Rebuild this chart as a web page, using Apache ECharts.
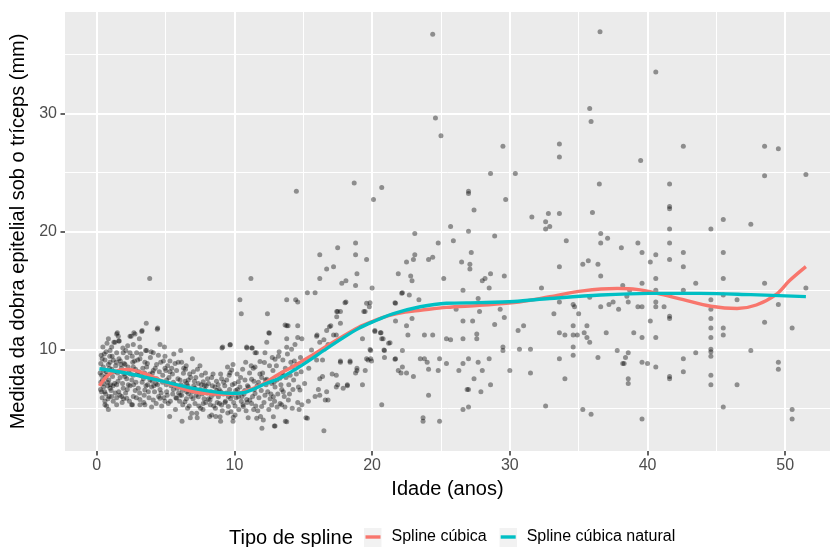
<!DOCTYPE html>
<html>
<head>
<meta charset="utf-8">
<script src="https://cdn.jsdelivr.net/npm/echarts@6/dist/echarts.min.js"></script>
<style>html,body{margin:0;padding:0;background:#fff}#chart{width:830px;height:547px}</style>
</head>
<body>
<div id="chart"></div>
<script>
// ---- DATA ----
const observations = [
[0.25,8.0],[0.3,7.2],[0.3,8.8],[0.35,6.4],[0.36,7.8],[0.4,9.2],[0.4,5.9],[0.45,10.2],[0.48,7.1],[0.48,8.5],[0.5,6.8],[0.55,9.6],[0.6,5.6],[0.6,9.1],[0.6,5.3],[0.62,7.6],[0.65,6.2],[0.7,8.1],[0.72,5.2],[0.72,7.8],[0.75,10.5],[0.8,6.9],[0.85,8.7],[0.85,4.9],[0.85,10.9],[0.88,7.4],[0.9,6.0],[0.95,9.4],[0.97,8.9],[0.97,9.9],[1.0,7.0],
[1.05,6.5],[1.09,6.0],[1.09,10.2],[1.1,8.3],[1.15,7.7],[1.2,5.6],[1.21,9.1],[1.25,10.6],[1.3,7.1],[1.33,10.6],[1.38,8.6],[1.45,11.3],[1.45,9.7],[1.45,7.0],[1.45,5.9],[1.45,5.3],[1.5,11.4],[1.52,8.0],[1.57,11.1],[1.6,6.4],[1.6,10.7],[1.64,10.7],[1.7,7.6],[1.72,9.0],[1.8,8.4],[1.82,6.0],[1.85,5.5],[1.9,10.1],[1.93,9.7],[1.93,6.7],[1.98,7.9],
[2.0,8.8],[2.06,8.7],[2.1,6.3],[2.18,7.5],[2.18,5.85],[2.2,9.3],[2.25,10.3],[2.3,7.0],[2.35,8.2],[2.42,9.7],[2.42,11.1],[2.42,6.9],[2.5,11.1],[2.54,5.3],[2.55,7.4],[2.6,5.3],[2.62,8.9],[2.66,10.4],[2.66,8.5],[2.66,7.8],[2.66,6.0],[2.7,11.4],[2.75,9.0],[2.78,11.3],[2.8,6.5],[2.85,7.2],[2.9,9.7],[2.95,8.0],
[3.02,6.7],[3.1,10.9],[3.14,10.2],[3.14,9.2],[3.14,5.75],[3.14,5.3],[3.2,7.8],[3.27,11.5],[3.3,11.6],[3.35,8.4],[3.39,7.5],[3.45,6.1],[3.5,8.9],[3.5,6.55],[3.5,5.3],[3.55,9.9],[3.6,12.2],[3.63,8.5],[3.63,9.9],[3.7,7.0],[3.8,5.9],[3.85,16.0],[3.87,7.4],[3.9,9.3],[3.99,6.8],[3.99,5.1],
[4.05,8.0],[4.11,9.7],[4.11,8.2],[4.11,5.7],[4.2,6.4],[4.3,7.1],[4.35,8.7],[4.35,7.5],[4.4,11.7],[4.43,11.8],[4.48,9.5],[4.5,6.0],[4.6,10.4],[4.6,6.6],[4.6,5.85],[4.65,8.9],[4.72,5.2],[4.8,7.8],[4.85,9.0],[4.96,9.4],[4.96,8.4],[4.96,5.6],
[5.05,7.0],[5.08,7.4],[5.08,6.4],[5.15,8.6],[5.2,5.4],[5.3,4.3],[5.32,9.0],[5.32,8.1],[5.4,6.9],[5.5,7.9],[5.57,7.2],[5.57,6.6],[5.6,9.6],[5.69,8.8],[5.75,5.9],[5.8,8.2],[5.8,5.85],[5.9,7.5],[5.95,6.3],
[6.05,7.4],[6.05,6.1],[6.1,9.9],[6.17,8.9],[6.17,6.1],[6.2,3.9],[6.25,5.3],[6.3,7.96],[6.35,6.8],[6.41,5.55],[6.45,8.3],[6.5,8.6],[6.54,7.1],[6.54,6.4],[6.6,5.0],[6.65,7.4],[6.65,6.25],[6.75,7.9],[6.8,4.2],[6.85,6.0],[6.9,4.57],[6.95,9.2],
[7.02,8.1],[7.05,6.9],[7.14,6.7],[7.14,5.4],[7.2,7.6],[7.26,4.57],[7.3,4.2],[7.38,7.1],[7.38,5.98],[7.45,6.4],[7.5,8.6],[7.55,5.0],[7.6,7.0],[7.65,6.2],[7.74,7.25],[7.74,5.4],[7.8,5.8],[7.87,6.55],[7.9,8.0],[7.95,6.9],
[8.05,7.5],[8.11,5.78],[8.2,4.3],[8.23,5.7],[8.3,6.4],[8.35,7.6],[8.35,4.43],[8.4,6.9],[8.5,5.2],[8.59,6.8],[8.65,4.3],[8.7,7.3],[8.75,5.5],[8.84,5.98],[8.9,6.6],[8.96,4.29],[9.0,3.9],[9.0,7.9],
[9.07,7.5],[9.07,5.28],[9.1,10.1],[9.15,10.2],[9.2,6.2],[9.3,6.9],[9.35,5.6],[9.44,7.4],[9.5,8.5],[9.56,5.98],[9.56,5.15],[9.65,6.6],[9.68,10.37],[9.68,8.02],[9.7,10.4],[9.75,4.7],[9.8,8.24],[9.85,7.0],[9.9,8.7],[9.92,4.24],[9.9,3.9],
[10.05,5.2],[10.05,4.43],[10.1,6.5],[10.2,7.9],[10.29,7.25],[10.29,5.98],[10.4,14.2],[10.4,6.8],[10.5,13.0],[10.5,5.6],[10.6,8.3],[10.65,5.15],[10.7,6.2],[10.77,7.4],[10.85,4.8],[10.89,10.2],[10.89,5.75],[10.9,10.1],[10.95,6.9],
[11.0,4.2],[11.1,8.0],[11.2,16.0],[11.25,10.1],[11.25,7.45],[11.25,5.4],[11.3,10.1],[11.37,8.4],[11.4,4.9],[11.45,6.6],[11.5,9.7],[11.5,8.5],[11.5,6.25],[11.6,9.7],[11.62,4.15],[11.7,4.8],[11.75,7.2],[11.86,8.96],[11.9,4.3],[11.98,7.6],[11.98,5.15],[12.0,3.3],
[12.1,4.0],[12.18,8.87],[12.22,9.7],[12.22,6.1],[12.3,7.0],[12.35,10.6],[12.35,7.45],[12.4,13.0],[12.5,11.4],[12.5,4.9],[12.54,11.35],[12.6,5.8],[12.71,7.1],[12.71,5.28],[12.8,8.2],[12.83,5.98],[12.83,4.29],[12.9,3.5],[12.95,9.15],[12.95,6.8],[12.95,3.5],
[13.08,7.4],[13.1,5.1],[13.2,9.4],[13.3,7.55],[13.32,5.4],[13.44,7.9],[13.44,6.6],[13.43,5.3],[13.5,8.0],[13.55,6.4],[13.67,5.1],[13.68,12.06],[13.7,8.4],[13.7,3.9],[13.8,14.2],[13.8,12.0],[13.8,10.9],[13.8,10.17],[13.8,3.85],[13.9,12.0],[13.95,7.0],
[14.0,6.2],[14.1,8.9],[14.2,8.5],[14.2,5.0],[14.3,7.4],[14.4,10.4],[14.45,14.2],[14.5,23.4],[14.5,7.9],[14.6,14.0],[14.6,12.0],[14.6,11.0],[14.6,5.5],[14.7,4.9],[14.76,6.55],[14.8,9.3],[14.9,10.9],[14.9,5.3],
[15.1,7.1],[15.2,4.2],[15.3,14.8],[15.3,4.15],[15.37,5.6],[15.4,8.4],[15.6,9.94],[15.8,9.5],[15.86,14.8],[15.86,6.0],[15.97,11.1],[15.97,9.1],
[16.0,11.2],[16.1,6.6],[16.2,18.0],[16.2,16.0],[16.2,10.6],[16.2,7.5],[16.2,6.1],[16.4,9.1],[16.4,7.7],[16.5,10.8],[16.5,3.1],[16.6,5.7],[16.7,16.8],[16.7,11.6],[16.7,6.4],[16.8,10.4],[16.8,5.7],[16.9,11.9],
[17.0,12.0],[17.1,7.9],[17.2,17.0],[17.2,11.2],[17.4,11.2],[17.4,7.8],[17.4,6.8],[17.43,13.2],[17.43,12.76],[17.5,18.6],[17.5,13.2],[17.5,7.0],[17.7,13.2],[17.7,12.2],[17.7,9.0],[17.7,8.9],[17.8,15.6],[17.9,6.7],
[18.03,13.95],[18.1,15.8],[18.1,14.0],[18.2,7.0],[18.2,6.9],[18.4,9.0],[18.4,8.9],[18.7,24.1],[18.8,19.0],[18.8,18.0],[18.8,15.4],[18.8,8.0],[18.9,16.4],[18.9,8.4],[18.9,8.2],
[19.3,10.9],[19.3,7.0],[19.4,13.2],[19.5,8.2],[19.49,13.2],[19.6,17.6],[19.6,13.9],[19.6,9.2],[19.7,9.1],[19.8,13.6],[19.85,13.95],[19.85,9.99],[19.9,9.9],[19.9,9.2],[19.96,9.0],
[20.0,15.2],[20.1,22.7],[20.2,11.6],[20.2,11.5],[20.6,11.4],[20.65,11.4],[20.7,23.7],[20.7,10.9],[20.7,5.3],[20.8,10.9],[20.86,9.94],[20.9,9.9],[20.9,9.3],[21.2,10.5],[21.3,10.56],[21.66,13.95],[21.66,9.15],[21.7,13.9],[21.7,12.4],[21.7,9.2],[21.9,16.4],[21.9,8.2],
[22.1,8.0],[22.15,14.75],[22.2,14.8],[22.2,9.9],[22.2,8.5],[22.5,17.4],[22.5,12.0],[22.5,8.0],[22.6,11.2],[22.7,14.6],[22.8,16.2],[22.9,15.8],[22.9,12.6],[23.0,17.6],[23.0,7.7],[23.1,19.8],[23.1,18.0],[23.4,14.2],[23.5,9.2],[23.7,4.2],[23.7,3.9],[23.8,11.2],[23.8,9.2],[24.0,8.9],
[24.1,17.6],[24.1,8.3],[24.1,6.1],[24.4,36.7],[24.4,17.8],[24.4,11.2],[24.6,29.6],[24.8,19.0],[24.8,8.2],[24.9,9.2],[24.9,3.9],[25.0,28.1],[25.2,16.0],[25.4,10.9],[25.4,8.8],[25.7,20.4],[25.7,10.8],[25.9,19.2],
[26.1,13.4],[26.3,8.2],[26.5,17.4],[26.6,15.0],[26.6,12.4],[26.6,10.9],[26.6,8.8],[26.6,4.9],[26.9,6.6],[27.0,23.4],[27.0,23.2],[27.0,20.0],[27.0,9.2],[27.0,6.6],[27.0,5.1],[27.1,17.2],[27.1,16.8],[27.2,18.2],[27.3,12.4],[27.4,21.8],[27.4,7.5],[27.6,11.3],[27.6,10.9],[27.7,14.3],[27.7,8.9],[27.8,13.2],[27.9,6.4],
[28.0,15.8],[28.0,8.2],[28.2,16.0],[28.5,15.2],[28.5,9.2],[28.6,24.9],[28.6,16.4],[28.6,7.0],[28.9,19.6],[28.9,12.1],[29.3,13.4],[29.5,27.2],[29.5,10.2],[29.5,9.9],[29.6,16.2],[29.6,12.7],[29.7,22.7],[30.0,8.2],
[30.4,24.9],[30.6,11.6],[30.7,10.0],[31.0,12.0],[31.5,10.0],[31.5,8.0],[31.6,21.2],[32.3,15.2],[32.6,20.8],[32.6,20.2],[32.6,5.2],[32.8,21.5],[32.9,20.4],[33.2,13.0],
[33.6,27.4],[33.6,26.3],[33.6,21.5],[33.6,17.0],[33.6,14.0],[33.6,11.4],[33.6,9.2],[34.0,11.2],[34.0,7.5],[34.1,19.2],[34.6,13.8],[34.6,12.0],[34.6,11.2],[34.6,10.2],[34.6,9.5],[34.7,13.6],[34.9,11.2],[35.0,13.0],[35.3,17.2],[35.3,4.9],[35.4,11.4],[35.6,12.0],[35.6,11.0],[35.7,17.5],[35.8,30.4],[35.8,14.4],[35.8,10.6],[35.9,29.3],[35.9,4.5],
[36.0,21.6],[36.4,17.2],[36.4,9.3],[36.5,24.0],[36.55,36.9],[36.6,19.8],[36.6,19.0],[36.6,16.2],[36.6,13.6],[37.0,11.4],[37.1,19.4],[37.2,13.8],[37.5,14.0],[37.8,9.9],[37.9,13.4],[38.1,18.6],[38.2,15.4],[38.2,8.8],[38.3,8.8],[38.4,9.3],[38.5,14.5],[38.6,14.0],[38.6,9.7],[38.6,7.5],[38.6,7.1],[38.7,15.0],
[39.0,11.4],[39.3,19.0],[39.3,13.6],[39.5,26.0],[39.6,18.2],[39.6,15.6],[39.6,13.6],[39.6,11.0],[39.6,8.9],[39.6,4.1],[40.0,8.8],[40.2,17.4],[40.2,12.4],[40.6,33.5],[40.6,18.0],[40.6,16.0],[40.6,15.0],[40.6,14.0],[40.6,13.6],[40.6,11.0],[40.6,8.5],[41.2,13.6],[41.6,24.0],[41.6,22.1],[41.6,21.9],[41.6,20.2],[41.6,19.0],[41.6,17.6],[41.6,12.8],[41.6,12.6],[41.6,7.7],[41.6,7.5],
[42.6,27.2],[42.6,18.2],[42.6,17.0],[42.6,15.0],[42.6,9.2],[42.6,8.1],[43.5,15.6],[43.5,9.7],[44.6,20.2],[44.6,14.2],[44.6,13.4],[44.6,12.6],[44.6,11.8],[44.6,11.0],[44.6,10.0],[44.6,9.8],[44.6,9.4],[44.6,7.8],[44.6,7.0],[45.5,21.0],[45.5,18.2],[45.5,16.0],[45.5,14.6],[45.5,11.8],[45.5,11.2],[45.5,5.1],
[46.5,14.2],[46.5,7.0],[47.5,20.6],[47.5,9.9],[48.5,27.2],[48.5,24.7],[48.5,15.6],[48.5,12.3],[49.5,27.0],[49.5,13.8],[49.5,8.9],[49.5,8.3],[50.5,11.8],[50.5,4.9],[50.5,4.1],[51.5,24.8],[51.5,15.2],
[0.28,6.6],[0.33,9.5],[0.42,7.4],[0.52,8.2],[0.58,6.4],[0.68,9.8],[0.78,7.2],[0.82,5.8],[0.92,8.4],[0.98,6.7],
[1.12,9.4],[1.18,6.9],[1.28,8.1],[1.35,6.3],[1.42,8.9],[1.55,7.3],[1.62,9.2],[1.68,6.1],[1.75,8.7],[1.88,7.1],[1.95,5.8],
[2.05,7.7],[2.12,9.9],[2.22,6.6],[2.28,8.5],[2.38,5.6],[2.45,7.9],[2.58,9.4],[2.68,7.0],[2.82,8.3],[2.88,5.9],[2.98,9.1],
[3.05,8.1],[3.12,6.3],[3.22,9.6],[3.3,7.2],[3.42,5.5],[3.48,8.0],[3.58,6.9],[3.68,8.8],[3.75,6.4],[3.85,7.9],[3.95,9.8],
[4.02,7.3],[4.15,6.9],[4.25,8.4],[4.32,5.4],[4.42,7.0],[4.55,8.1],[4.68,6.3],[4.78,7.2],[4.88,5.9],[4.92,10.2],
[5.02,8.2],[5.12,6.1],[5.25,7.6],[5.35,5.6],[5.45,8.4],[5.52,6.2],[5.65,7.0],[5.72,4.9],[5.85,6.7],[5.92,8.9],
[6.02,5.6],[6.12,7.0],[6.22,6.5],[6.32,8.4],[6.42,7.3],[6.52,5.8],[6.62,6.9],[6.72,5.2],[6.82,7.6],[6.92,6.4],
[7.0,5.8],[7.1,7.3],[7.22,6.1],[7.32,8.3],[7.42,5.2],[7.52,6.6],[7.62,7.8],[7.72,4.9],[7.82,6.9],[7.92,5.5],
[8.02,6.3],[8.12,7.1],[8.25,5.3],[8.32,6.0],[8.45,7.9],[8.55,6.2],[8.62,5.0],[8.72,6.5],[8.82,7.0],[8.92,5.4],
[9.02,6.4],[9.12,4.8],[9.22,7.2],[9.32,5.5],[9.42,6.3],[9.52,4.6],[9.62,7.8],[9.72,5.8],[9.82,6.1],[9.95,5.5],
[10.02,7.1],[10.12,5.9],[10.22,6.6],[10.32,4.9],[10.45,7.6],[10.55,6.0],[10.62,5.3],[10.75,6.5],[10.82,8.9],[10.92,5.5],
[11.02,6.8],[11.12,5.7],[11.22,8.6],[11.32,6.0],[11.42,7.3],[11.55,5.2],[11.65,6.9],[11.78,5.9],[11.85,7.9],[11.95,6.5],
[12.05,8.0],[12.15,5.5],[12.25,7.4],[12.42,6.4],[12.55,8.6],[12.65,6.2],[12.75,9.3],[12.88,7.2],[12.92,5.6],
[13.05,8.6],[13.15,6.2],[13.25,9.8],[13.38,7.0],[13.52,9.1],[13.62,6.0],[13.75,7.6],[13.85,9.6],[13.92,5.7],
[14.05,7.8],[14.15,10.0],[14.25,6.6],[14.35,9.0],[14.55,8.7],[14.65,6.8],[14.85,8.1]
];

const cubicAge = [0.2,1.0,2.3,3.4,4.6,5.8,7.0,8.2,9.4,10.4,11.9,13.0,14.2,15.4,16.6,17.8,19.0,20.0,21.2,22.4,23.5,25.4,27.8,30.3,32.9,35.3,37.8,39.2,40.7,42.6,44.6,46.5,47.9,49.4,50.3,51.5];
const cubicFit = [6.9,7.95,8.3,7.97,7.4,6.85,6.42,6.22,6.18,6.3,6.95,7.74,8.5,9.32,10.2,11.05,11.85,12.35,12.85,13.15,13.3,13.55,13.72,13.95,14.45,14.95,15.15,15.08,14.75,14.2,13.65,13.45,13.75,14.7,15.8,17.0];

const naturalAge = [0.2,2.2,4.6,7.0,8.95,9.9,10.9,12.3,13.3,14.5,15.5,16.5,17.8,19.0,20.0,21.5,23.5,25.4,27.8,30.3,32.9,36.6,40.2,43.8,47.5,51.5];
const naturalFit = [8.35,7.97,7.34,6.69,6.33,6.27,6.4,7.1,7.55,8.35,9.1,9.9,10.9,11.75,12.3,13.0,13.6,13.9,13.95,14.05,14.3,14.6,14.74,14.74,14.63,14.46];

const xTicks = [0,10,20,30,40,50];
const xMinor = [5,15,25,35,45];
const yTicks = [10,20,30];
const yMinor = [5,15,25,35];

const seriesNames = ['Spline cúbica','Spline cúbica natural'];
const legendTitle = 'Tipo de spline';
const xTitle = 'Idade (anos)';
const yTitle = 'Medida da dobra epitelial sob o tríceps (mm)';

// ---- CHART ----
const FONT = '"Liberation Sans", Arial, Helvetica, sans-serif';
const chart = echarts.init(document.getElementById('chart'), null, {renderer:'canvas'});
const gridLines = []
  .concat(xMinor.map(v => ({xAxis:v, lineStyle:{color:'#ffffff', width:1, type:'solid'}})))
  .concat(yMinor.map(v => ({yAxis:v, lineStyle:{color:'#ffffff', width:1, type:'solid'}})))
  .concat(xTicks.map(v => ({xAxis:v, lineStyle:{color:'#ffffff', width:2, type:'solid'}})))
  .concat(yTicks.map(v => ({yAxis:v, lineStyle:{color:'#ffffff', width:2, type:'solid'}})));

const option = {
  animation:false,
  textStyle:{fontFamily:FONT},
  title:{text:legendTitle, left:229, top:528, padding:0, textStyle:{fontSize:20, fontWeight:'normal', color:'#000', fontFamily:FONT}},
  legend:{
    data:seriesNames, left:365.5, top:529, padding:0, orient:'horizontal',
    icon:'rect', itemWidth:15, itemHeight:3.4, itemGap:14,
    textStyle:{fontSize:16, color:'#000', fontFamily:FONT, padding:[0,0,0,6]}
  },
  graphic:[
    {type:'rect', left:364, top:528, shape:{width:17.5, height:19}, style:{fill:'#F2F2F2'}, z:-1, silent:true},
    {type:'rect', left:499.5, top:528, shape:{width:17.5, height:19}, style:{fill:'#F2F2F2'}, z:-1, silent:true}
  ],
  grid:{left:65, top:12, bottom:96, right:0, show:true, backgroundColor:'#EBEBEB', borderWidth:0, containLabel:false},
  xAxis:{
    type:'value', min:-2.3, max:53.25,
    name:xTitle, nameLocation:'middle', nameGap:28,
    nameTextStyle:{fontSize:20, color:'#000', fontFamily:FONT},
    axisLine:{show:false, onZero:false},
    axisTick:{show:true, length:4.5, lineStyle:{color:'#333', width:1.5}, customValues:xTicks},
    axisLabel:{show:true, fontSize:16, color:'#4D4D4D', margin:7, customValues:xTicks, fontFamily:FONT},
    splitLine:{show:false}
  },
  yAxis:{
    type:'value', min:1.38, max:38.58,
    name:yTitle, nameLocation:'middle', nameGap:26,
    nameTextStyle:{fontSize:20, color:'#000', fontFamily:FONT},
    axisLine:{show:false, onZero:false},
    axisTick:{show:true, length:4.5, lineStyle:{color:'#333', width:1.5}, customValues:yTicks},
    axisLabel:{show:true, fontSize:16, color:'#4D4D4D', margin:8, customValues:yTicks, fontFamily:FONT},
    splitLine:{show:false}
  },
  series:[
    {type:'scatter', name:'grid', data:[], silent:true, z:1,
     markLine:{silent:true, symbol:['none','none'], label:{show:false}, z:1, animation:false, data:gridLines}},
    {type:'scatter', name:'obs', data:observations, symbolSize:5, z:3, silent:true,
     itemStyle:{color:'#000', opacity:0.4}},
    {type:'line', name:seriesNames[0], data:cubicAge.map((a,i)=>[a,cubicFit[i]]), showSymbol:false, smooth:0.35, z:4,
     color:'#F8766D', lineStyle:{color:'#F8766D', width:3.4}, itemStyle:{color:'#F8766D'}},
    {type:'line', name:seriesNames[1], data:naturalAge.map((a,i)=>[a,naturalFit[i]]), showSymbol:false, smooth:0.35, z:5,
     color:'#00BFC4', lineStyle:{color:'#00BFC4', width:3.4}, itemStyle:{color:'#00BFC4'}}
  ]
};
chart.setOption(option);
</script>
</body>
</html>
